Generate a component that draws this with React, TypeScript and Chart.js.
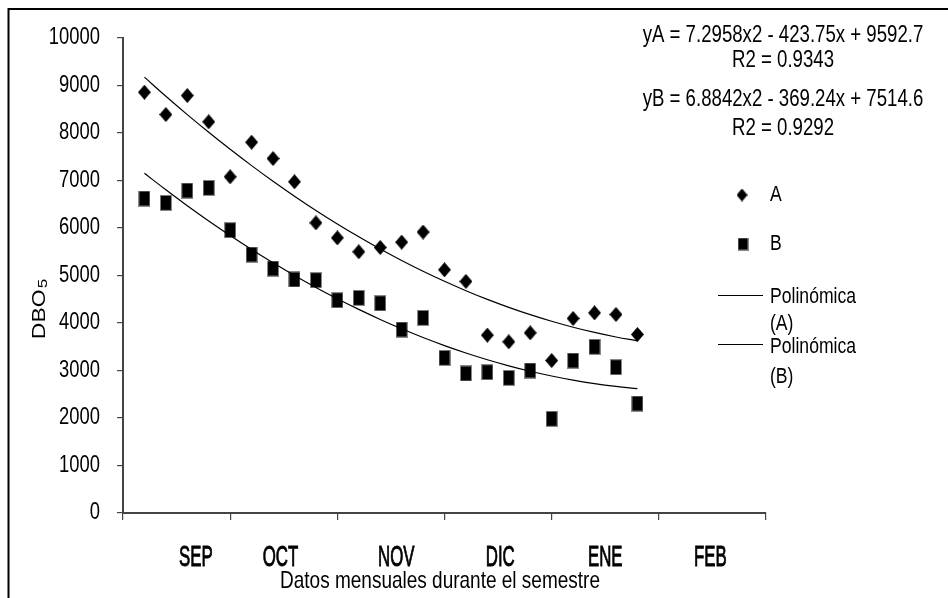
import React, { useEffect, useRef } from 'react';
import { Chart, registerables } from 'chart.js';

Chart.register(...registerables);

// ---- data ----
const X_VALUES = [1, 2, 3, 4, 5, 6, 7, 8, 9, 10, 11, 12, 13, 14, 15, 16, 17, 18, 19, 20, 21, 22, 23, 24];
const SERIES_A = [8859, 8389, 8789, 8236, 7078, 7806, 7463, 6973, 6109, 5793, 5499, 5590, 5702, 5915, 5120, 4875, 3744, 3604, 3793, 3210, 4095, 4214, 4179, 3758];
const SERIES_B = [6621, 6530, 6789, 6846, 5954, 5442, 5147, 4916, 4902, 4480, 4530, 4415, 3863, 4109, 3267, 2937, 2964, 2846, 3000, 1983, 3210, 3499, 3069, 2305];
// polynomial trend lines (values of the printed fits at each x)
const TREND_A = [9176, 8774, 8387, 8014, 7656, 7313, 6984, 6670, 6370, 6085, 5814, 5558, 5317, 5090, 4878, 4680, 4497, 4329, 4175, 4036, 3911, 3801, 3706, 3625];
const TREND_B = [7152, 6804, 6469, 6148, 5841, 5547, 5267, 5001, 4749, 4511, 4286, 4075, 3878, 3695, 3525, 3369, 3227, 3099, 2984, 2884, 2797, 2723, 2664, 2618];
const Y_MIN = 0;
const Y_MAX = 10000;
const Y_STEP = 1000;
const X_MIN = 0;
const X_MAX = 30;
const X_STEP = 5;
const MONTHS = ['SEP', 'OCT', 'NOV', 'DIC', 'ENE', 'FEB'];
const EQUATIONS = ['yA = 7.2958x2 - 423.75x + 9592.7', 'R2 = 0.9343', 'yB = 6.8842x2 - 369.24x + 7514.6', 'R2 = 0.9292'];
const SERIES_LABELS = ['A', 'B'];
const TREND_LABELS = [['Polinómica', '(A)'], ['Polinómica', '(B)']];
const Y_TITLE = 'DBO';
const Y_TITLE_SUB = '5';
const X_TITLE = 'Datos mensuales durante el semestre';

const FONT = "'Liberation Sans', Arial, sans-serif";

function makeDiamond(w: number, h: number): HTMLCanvasElement {
  const c = document.createElement('canvas');
  c.width = w;
  c.height = h;
  const g = c.getContext('2d')!;
  g.fillStyle = '#000';
  g.beginPath();
  g.moveTo(w / 2, 0);
  g.lineTo(w, h / 2);
  g.lineTo(w / 2, h);
  g.lineTo(0, h / 2);
  g.closePath();
  g.fill();
  return c;
}

function makeSquare(w: number, h: number): HTMLCanvasElement {
  const c = document.createElement('canvas');
  c.width = w;
  c.height = h;
  const g = c.getContext('2d')!;
  g.fillStyle = '#888';
  g.fillRect(0, 0, w, h);
  g.fillStyle = '#000';
  g.fillRect(1, 1, w - 2, h - 2);
  return c;
}

function drawScaled(ctx: CanvasRenderingContext2D, text: string, x: number, y: number, font: string, sx: number, align: CanvasTextAlign, stroke = 0) {
  ctx.save();
  ctx.translate(x, y);
  ctx.scale(sx, 1);
  ctx.font = font;
  ctx.textAlign = align;
  ctx.textBaseline = 'middle';
  ctx.fillText(text, 0, 0);
  if (stroke > 0) {
    ctx.lineWidth = stroke;
    ctx.strokeStyle = '#000';
    ctx.strokeText(text, 0, 0);
  }
  ctx.restore();
}

function drawFit(ctx: CanvasRenderingContext2D, text: string, cx: number, cy: number, font: string, width: number) {
  ctx.save();
  ctx.font = font;
  const w = ctx.measureText(text).width;
  ctx.translate(cx, cy);
  ctx.scale(width / w, 1);
  ctx.textAlign = 'center';
  ctx.textBaseline = 'middle';
  ctx.fillText(text, 0, 0);
  ctx.restore();
}

export default function App() {
  const ref = useRef<HTMLCanvasElement | null>(null);

  useEffect(() => {
    if (!ref.current) return;
    const diamond = makeDiamond(13, 15);
    const square = makeSquare(12, 16);
    const legDiamond = makeDiamond(11, 13);
    const legSquare = makeSquare(11, 13);

    const decor = {
      id: 'decor',
      beforeDraw(chart: any) {
        const ctx = chart.ctx;
        ctx.save();
        ctx.fillStyle = '#fff';
        ctx.fillRect(0, 0, chart.width, chart.height);
        ctx.restore();
      },
      afterDraw(chart: any) {
        const ctx: CanvasRenderingContext2D = chart.ctx;
        const xs = chart.scales.x;
        const ys = chart.scales.y;
        ctx.save();
        // figure frame
        ctx.strokeStyle = '#000';
        ctx.lineWidth = 2;
        ctx.beginPath();
        ctx.moveTo(8.5, chart.height);
        ctx.lineTo(8.5, 9);
        ctx.lineTo(chart.width, 9);
        ctx.stroke();

        ctx.fillStyle = '#000';
        // y tick labels (narrow), taken from the scale's ticks
        ys.ticks.forEach((t: any) => {
          drawScaled(ctx, String(t.value), ys.right - 23, ys.getPixelForValue(t.value), `23px ${FONT}`, 0.8, 'right');
        });

        // equations
        const eqY = [36, 61, 100, 129];
        EQUATIONS.forEach((t, i) => drawScaled(ctx, t, 783, eqY[i], `23px ${FONT}`, 0.81, 'center'));

        // legend
        const lx = 770;
        ctx.drawImage(legDiamond, 742 - 5.5, 195 - 6.5);
        drawScaled(ctx, SERIES_LABELS[0], lx, 195, `22px ${FONT}`, 0.8, 'left');
        ctx.drawImage(legSquare, 743 - 5.5, 244 - 6.5);
        drawScaled(ctx, SERIES_LABELS[1], lx, 244, `22px ${FONT}`, 0.8, 'left');
        ctx.strokeStyle = '#000';
        ctx.lineWidth = 1;
        const lineY = [295.5, 344.5];
        const textY = [[297, 324], [347, 377]];
        TREND_LABELS.forEach((lab, i) => {
          ctx.beginPath();
          ctx.moveTo(718, lineY[i]);
          ctx.lineTo(763, lineY[i]);
          ctx.stroke();
          drawScaled(ctx, lab[0], lx, textY[i][0], `22px ${FONT}`, 0.8, 'left');
          drawScaled(ctx, lab[1], lx, textY[i][1], `22px ${FONT}`, 0.8, 'left');
        });

        // month labels under the axis
        const monthPos = [3.4, 7.35, 12.75, 17.6, 22.5, 27.4];
        MONTHS.forEach((m, i) => {
          drawScaled(ctx, m, xs.getPixelForValue(monthPos[i]), 558, `29px ${FONT}`, 0.58, 'center', 0.9);
        });
        // x title
        drawFit(ctx, X_TITLE, 440, 581, `24px ${FONT}`, 320);

        // y title, rotated
        ctx.save();
        ctx.translate(40, 309);
        ctx.rotate(-Math.PI / 2);
        ctx.scale(1, 0.8);
        ctx.font = `23px ${FONT}`;
        ctx.textBaseline = 'middle';
        ctx.textAlign = 'left';
        const wMain = ctx.measureText(Y_TITLE).width;
        ctx.font = `17px ${FONT}`;
        const wSub = ctx.measureText(Y_TITLE_SUB).width;
        const start = -(wMain + wSub + 1) / 2;
        ctx.font = `23px ${FONT}`;
        ctx.fillText(Y_TITLE, start, 0);
        ctx.font = `17px ${FONT}`;
        ctx.fillText(Y_TITLE_SUB, start + wMain + 1, 4);
        ctx.restore();

        ctx.restore();
      },
    };

    const chart = new Chart(ref.current, {
      type: 'scatter',
      data: {
        datasets: [
          {
            type: 'line',
            label: 'Polinómica (A)',
            data: X_VALUES.map((x, i) => ({ x, y: TREND_A[i] })),
            borderColor: '#000',
            borderWidth: 1.2,
            pointRadius: 0,
            tension: 0.4,
            fill: false,
          },
          {
            type: 'line',
            label: 'Polinómica (B)',
            data: X_VALUES.map((x, i) => ({ x, y: TREND_B[i] })),
            borderColor: '#000',
            borderWidth: 1.2,
            pointRadius: 0,
            tension: 0.4,
            fill: false,
          },
          {
            label: 'A',
            data: X_VALUES.map((x, i) => ({ x, y: SERIES_A[i] })),
            pointStyle: diamond as any,
            pointRadius: 6,
            backgroundColor: '#000',
            borderColor: '#000',
          },
          {
            label: 'B',
            data: X_VALUES.map((x, i) => ({ x, y: SERIES_B[i] })),
            pointStyle: square as any,
            pointRadius: 6,
            backgroundColor: '#000',
            borderColor: '#000',
          },
        ],
      },
      options: {
        animation: false,
        responsive: false,
        maintainAspectRatio: false,
        layout: { padding: { top: 38, right: 182, bottom: 0, left: 0 } },
        plugins: { legend: { display: false }, tooltip: { enabled: false } },
        scales: {
          x: {
            type: 'linear',
            min: X_MIN,
            max: X_MAX,
            ticks: { stepSize: X_STEP, callback: () => '' },
            grid: { display: true, drawOnChartArea: false, drawTicks: true, tickLength: 7, color: '#444', lineWidth: 1.2 },
            border: { display: true, color: '#444', width: 2 },
            afterFit: (s: any) => { s.height = 85; },
          },
          y: {
            type: 'linear',
            min: Y_MIN,
            max: Y_MAX,
            ticks: { stepSize: Y_STEP, callback: () => '' },
            grid: { display: true, drawOnChartArea: false, drawTicks: true, tickLength: 6, color: '#444', lineWidth: 1.2 },
            border: { display: true, color: '#444', width: 2 },
            afterFit: (s: any) => { s.width = 123; },
          },
        },
      },
      plugins: [decor],
    } as any);

    return () => chart.destroy();
  }, []);

  return (
    <div style={{ position: 'absolute', left: 0, top: 0, width: 948, height: 598, background: '#fff' }}>
      <canvas ref={ref} width={948} height={598} style={{ display: 'block' }} />
    </div>
  );
}
